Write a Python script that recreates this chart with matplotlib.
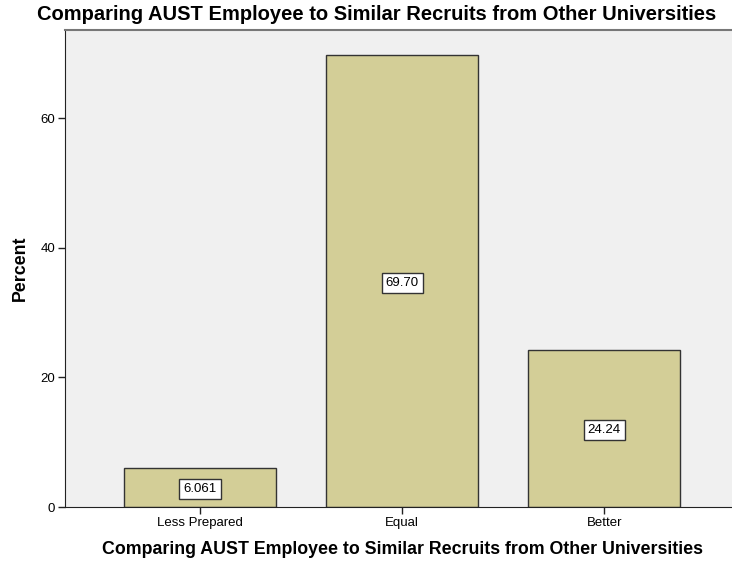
import matplotlib
matplotlib.use("Agg")
import matplotlib.pyplot as plt

categories = ["Less Prepared", "Equal", "Better"]
percents = [6.061, 69.70, 24.24]
value_labels = ["6.061", "69.70", "24.24"]
yticks = [0, 20, 40, 60]

plt.rcParams['font.family'] = ['Liberation Sans', 'DejaVu Sans']

fig = plt.figure(figsize=(7.32, 5.65), dpi=100)
ax = fig.add_axes([65/732, 1-507/565, 1-65/732+0.01, (507-30)/565])
ax.set_facecolor('#F0F0F0')

x = list(range(len(categories)))
ax.bar(x, percents, width=0.752, color='#D3CE97', edgecolor='#333333', linewidth=1.0, zorder=2)
for xi, v, lab in zip(x, percents, value_labels):
    ax.text(xi, v/2, lab, ha='center', va='center_baseline', fontsize=9.5, zorder=3,
            bbox=dict(boxstyle='square,pad=0.3', facecolor='white', edgecolor='#333333', linewidth=1.0))

ax.set_xlim(-0.668, 2.668)
ax.set_ylim(0, 73.6)
ax.set_xticks(x)
ax.set_xticklabels(categories, fontsize=9.5)
ax.set_yticks(yticks)
ax.set_yticklabels([str(t) for t in yticks], fontsize=9.5)
ax.tick_params(axis='both', direction='out', length=5, width=1, color='#222222', pad=2)

ax.spines['right'].set_visible(False)
ax.spines['top'].set_color('#777777')
ax.spines['top'].set_linewidth(1.5)
ax.spines['left'].set_color('#222222')
ax.spines['bottom'].set_color('#222222')

ax.set_xlabel('Comparing AUST Employee to Similar Recruits from Other Universities', fontsize=12.8, fontweight='bold', labelpad=9)
fig.text(20/732, 1-268/565, 'Percent', rotation=90, ha='center', va='center', fontsize=12.8, fontweight='bold')
fig.text(377/732, 1-15/565, 'Comparing AUST Employee to Similar Recruits from Other Universities',
         ha='center', va='center', fontsize=14.5, fontweight='bold')

fig.savefig('out.png', dpi=100)
